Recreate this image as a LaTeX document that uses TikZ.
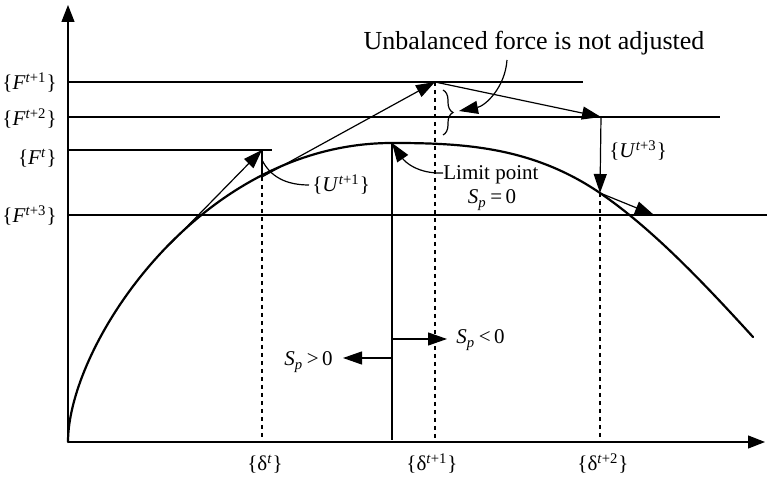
\documentclass[tikz,border=0pt]{standalone}
\usepackage{fontspec}
\setmainfont{Liberation Serif}
\usetikzlibrary{arrows.meta,decorations.pathreplacing}
\begin{document}
\begin{tikzpicture}[x=0.5pt,y=-0.5pt,
  thinline/.style={line width=0.6pt},
  arr/.style={thinline,-{Triangle[length=9.5pt,width=6.5pt]}},
  axisarr/.style={thinline,-{Triangle[length=8.5pt,width=6.5pt]}},
  leader/.style={line width=0.6pt},
  curveline/.style={line width=1.1pt,line cap=round,line join=round},
  dashline/.style={line width=0.6pt,dash pattern=on 2pt off 2pt},
  lbl/.style={font=\fontsize{10.5}{12}\selectfont, inner sep=0pt},
  biglbl/.style={font=\fontsize{13}{15}\selectfont, inner sep=0pt}]
\useasboundingbox (0,0) rectangle (767,480);
% axes
\coordinate (O) at (68,442);
\coordinate (Ytop) at (68,5);
\coordinate (Xend) at (765,442);
\draw[axisarr] (O) -- (Ytop);
\draw[axisarr] (O) -- (Xend);
% force levels
\coordinate (F1a) at (68,82);  \coordinate (F1b) at (583,82);
\coordinate (F2a) at (68,117); \coordinate (F2b) at (720,117);
\coordinate (F0a) at (68,150); \coordinate (F0b) at (272,150);
\coordinate (F3a) at (68,215); \coordinate (F3b) at (767,215);
\draw[thinline] (F1a) -- (F1b);
\draw[thinline] (F2a) -- (F2b);
\draw[thinline] (F0a) -- (F0b);
\draw[thinline] (F3a) -- (F3b);
% key points
\coordinate (L) at (392,143);
\coordinate (E) at (600,193);
\coordinate (Cend) at (753,337);
% curve
\draw[curveline] (O) .. controls (68,345) and (200,143) .. (L)
  .. controls (461,143) and (531,146) .. (E)
  .. controls (651,227.7) and (702,281) .. (Cend);
\coordinate (P0) at (170,244);
\coordinate (A) at (262,150);
\coordinate (B) at (262,177);
\coordinate (C) at (435,82);
\coordinate (D) at (601,117);
\coordinate (G) at (654,215);
\coordinate (Bx) at (262,442);
\coordinate (Cx) at (435,442);
\coordinate (Ex) at (600,442);
\coordinate (Lx) at (392,440);
% dashed verticals
\draw[dashline] (B) -- (Bx);
\draw[dashline] (C) -- (Cx);
\draw[dashline] (E) -- (Ex);
\draw[thinline] (A) -- (B);
% iteration arrows
\draw[arr] (P0) -- (A);
\draw[arr] (B) -- (C);
\draw[arr] (C) -- (D);
\draw[arr] (D) -- (E);
\draw[arr] (E) -- (G);
% limit point line and stiffness arrows
\draw[thinline] (L) -- (Lx);
\coordinate (SpL) at (392,358); \coordinate (SpLt) at (343,358);
\coordinate (SpR) at (392,339); \coordinate (SpRt) at (447,339);
\draw[arr] (SpL) -- (SpLt);
\draw[arr] (SpR) -- (SpRt);
% labels
\node[lbl, anchor=base east] (lF1) at (57,90) {\{\textit{F}\textsuperscript{\textit{t}+1}\}};
\node[lbl, anchor=base east] (lF2) at (57,126) {\{\textit{F}\textsuperscript{\textit{t}+2}\}};
\node[lbl, anchor=base east] (lF0) at (57,165) {\{\textit{F}\textsuperscript{\textit{t}}\}};
\node[lbl, anchor=base east] (lF3) at (57,223) {\{\textit{F}\textsuperscript{\textit{t}+3}\}};
\node[lbl, anchor=base] (ld0) at (265,471) {\{δ\textsuperscript{\textit{t}}\}};
\node[lbl, anchor=base] (ld1) at (432,471) {\{δ\textsuperscript{\textit{t}+1}\}};
\node[lbl, anchor=base] (ld2) at (603,471) {\{δ\textsuperscript{\textit{t}+2}\}};
\node[lbl, anchor=base west] (lU1) at (312,192) {\{\textit{U}\textsuperscript{\textit{t}+1}\}};
\node[lbl, anchor=base west] (lU3) at (609,158) {\{\textit{U}\textsuperscript{\textit{t}+3}\}};
\node[lbl, anchor=base west] (lLim) at (443,180) {Limit point};
\node[lbl, anchor=base] (lSp0) at (492,204) {\textit{S}\textsubscript{\textit{p}}\,=\,0};
\node[lbl, anchor=base east] (lSpg) at (333,366) {\textit{S}\textsubscript{\textit{p}}\,>\,0};
\node[lbl, anchor=base west] (lSpl) at (456,344) {\textit{S}\textsubscript{\textit{p}}\,<\,0};
\node[biglbl, anchor=base] (lUnb) at (534,50) {Unbalanced force is not adjusted};
% leaders
\coordinate (UnbS) at (507,60);
\coordinate (UnbT) at (459,111);
\draw[arr] (UnbS) .. controls (505,88) and (485,106) .. (UnbT);
\coordinate (LimS) at (443,173);
\draw[arr] (LimS) .. controls (418,174) and (405,162) .. (L);
\coordinate (U1S) at (262,160);
\coordinate (U1T) at (309,185);
\draw[leader] (U1S) .. controls (270,176) and (285,185) .. (U1T);
% brace
\coordinate (BrA) at (443,90);
\coordinate (BrB) at (443,135);
\draw[leader, decorate, decoration={brace, amplitude=5pt}] (BrA) -- (BrB);
\end{tikzpicture}
\end{document}
